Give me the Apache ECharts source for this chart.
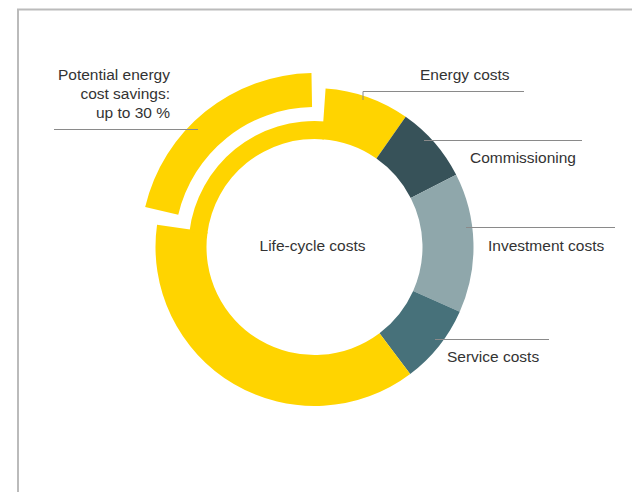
<!DOCTYPE html>
<html>
<head>
<meta charset="utf-8">
<script src="https://cdn.jsdelivr.net/npm/echarts@6/dist/echarts.min.js"></script>
<style>
  html, body { margin: 0; padding: 0; background: #fff; }
  #chart { width: 632px; height: 492px; }
</style>
</head>
<body>
<div id="chart"></div>
<script>
// slices of the life-cycle ring, in degrees of the circle, clockwise from the top
const categories = ['Energy costs', 'Commissioning', 'Investment costs', 'Service costs'];
const ringValues = [31, 28, 51, 29];
const energyRestValue = 135;   // rest of the energy slice, full ring
const savedValue = 86;         // energy slice part that shrinks to a thin ring
const savingsArcValue = 75.7;  // detached outer arc
const savingsLabel = ['Potential energy', 'cost savings:', 'up to 30 %'];
const centerLabel = 'Life-cycle costs';

const colors = ['#FFD400', '#375259', '#8FA7AB', '#47717A'];
const clear = 'rgba(0,0,0,0)';
const center = [314.5, 247];
const textStyle = { fill: '#333', font: '15.5px "Liberation Sans", Arial, sans-serif' };
const lineStyle = { stroke: '#8a8a8a', lineWidth: 1 };

var chart = echarts.init(document.getElementById('chart'), null, { renderer: 'svg' });

var mainData = categories.map((name, i) => ({
  name: name, value: ringValues[i], itemStyle: { color: colors[i] }
}));
mainData.push({ name: 'Energy costs ', value: energyRestValue, itemStyle: { color: colors[0] } });
mainData.push({ name: 'gap', value: 360 - ringValues.reduce((a, b) => a + b, 0) - energyRestValue, itemStyle: { color: clear } });

var base = {
  type: 'pie',
  center: center,
  clockwise: true,
  silent: true,
  label: { show: false },
  labelLine: { show: false },
  emphasis: { disabled: true },
  itemStyle: { borderWidth: 0 }
};

// leader lines and labels (drawn above the ring)
var labelPos = [
  { x: 420, y: 74, line: [[363, 100], [363, 91.5], [524, 91.5]] },
  { x: 470, y: 157, line: [[424, 140.5], [582, 140.5]] },
  { x: 488, y: 245, line: [[466, 227.5], [615, 227.5]] },
  { x: 447, y: 356, line: [[435, 339.5], [549, 339.5]] }
];
var graphics = [
  { type: 'polyline', z: 100, shape: { points: [[17, 9.5], [632, 9.5]] }, style: { stroke: '#bbb', lineWidth: 2 } },
  { type: 'polyline', z: 100, shape: { points: [[18, 9], [18, 492]] }, style: { stroke: '#bbb', lineWidth: 2 } },
  { type: 'polyline', z: 100, shape: { points: [[54, 129.5], [198, 129.5]] }, style: lineStyle },
  { type: 'text', z: 100, x: center[0] - 2, y: 245, style: Object.assign({ text: centerLabel, align: 'center', verticalAlign: 'middle' }, textStyle) }
];
savingsLabel.forEach((t, i) => {
  graphics.push({ type: 'text', z: 100, x: 170, y: 74 + i * 19,
    style: Object.assign({ text: t, align: 'right', verticalAlign: 'middle' }, textStyle) });
});
categories.forEach((name, i) => {
  var p = labelPos[i];
  graphics.push({ type: 'polyline', z: 100, shape: { points: p.line }, style: lineStyle });
  graphics.push({ type: 'text', z: 100, x: p.x, y: p.y,
    style: Object.assign({ text: name, align: 'left', verticalAlign: 'middle' }, textStyle) });
});

var chartOptions = {
  animation: false,
  backgroundColor: '#fff',
  graphic: graphics,
  series: [
    Object.assign({}, base, {
      name: 'Life-cycle costs',
      radius: [108, 159],
      startAngle: 86,
      data: mainData
    }),
    // thin ring overlaps its neighbours by a degree so no seam shows
    Object.assign({}, base, {
      name: 'Remaining energy costs',
      radius: [108, 126],
      startAngle: 173,
      data: [
        { name: 'Energy costs', value: savedValue + 2, itemStyle: { color: colors[0] } },
        { name: 'rest', value: 360 - savedValue - 2, itemStyle: { color: clear } }
      ]
    }),
    Object.assign({}, base, {
      name: 'Potential savings',
      radius: [140, 174],
      startAngle: 166.7,
      data: [
        { name: 'Savings', value: savingsArcValue, itemStyle: { color: colors[0] } },
        { name: 'rest', value: 360 - savingsArcValue, itemStyle: { color: clear } }
      ]
    })
  ]
};
chart.setOption(chartOptions);
</script>
</body>
</html>
